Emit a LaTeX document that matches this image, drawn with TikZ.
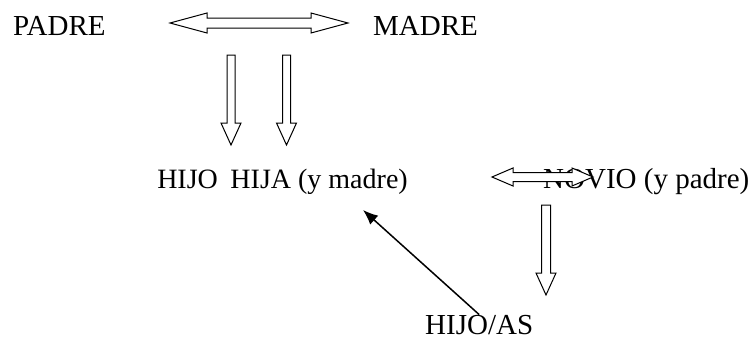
\documentclass[tikz,border=0pt]{standalone}
\usepackage{fontspec}
\setmainfont{Liberation Serif}
\usepackage{tikz}
\usetikzlibrary{arrows.meta}

\tikzset{
  blk/.style = {draw = black, fill = white, line width = 1pt, line join = miter},
  word/.style = {inner sep = 0pt, anchor = base west},
  % length, head length, head half width, shaft half width
  pics/onearrow/.style args = {#1,#2,#3,#4}{code = {
    \draw [blk] (0, -#4) -- (#1 - #2, -#4) -- (#1 - #2, -#3) -- (#1, 0) -- (#1 - #2, #3) -- (#1 - #2, #4) -- (0, #4) -- cycle;
  }},
  pics/twoarrow/.style args = {#1,#2,#3,#4}{code = {
    \draw [blk] (0, 0) -- (#2, -#3) -- (#2, -#4) -- (#1 - #2, -#4) -- (#1 - #2, -#3) -- (#1, 0) -- (#1 - #2, #3) -- (#1 - #2, #4) -- (#2, #4) -- (#2, #3) -- cycle;
  }}
}

\begin{document}
\begin{tikzpicture}[x = 1pt, y = -1pt, >={Latex[length = 15pt, width = 12pt]}, font = \fontsize{29}{34}\selectfont]
\useasboundingbox [fill = white] (0, 0) rectangle (753, 340);
\def\down{90}

\node [word] (padre) at (13, 35) {PADRE};
\node [word] (madre) at (373, 35) {MADRE};
\pic at (170, 23) {twoarrow = {178,37,10,5}};

\pic [rotate = -90] at (231, 55) {onearrow = {\down,22,10,4}};
\pic [rotate = -90] at (286.5, 55) {onearrow = {\down,22,10,4}};

\node [word, anchor = base east, font = \fontsize{28}{34}\selectfont] (hija) at (408, 188) {HIJO\hspace{.45em}HIJA (y madre)};
\node [word] (novio) at (543, 188) {NOVIO (y padre)};
\pic at (492, 177) {twoarrow = {101,21,9,4.5}};

\pic [rotate = -90] at (546, 205) {onearrow = {\down,22,10,4.5}};

\node [word] (hijos) at (425, 334) {HIJO/AS};
\coordinate (tip) at (363, 210);
\draw [->, line width = 1.5pt] (hijos.north) -- (tip);
\end{tikzpicture}
\end{document}
